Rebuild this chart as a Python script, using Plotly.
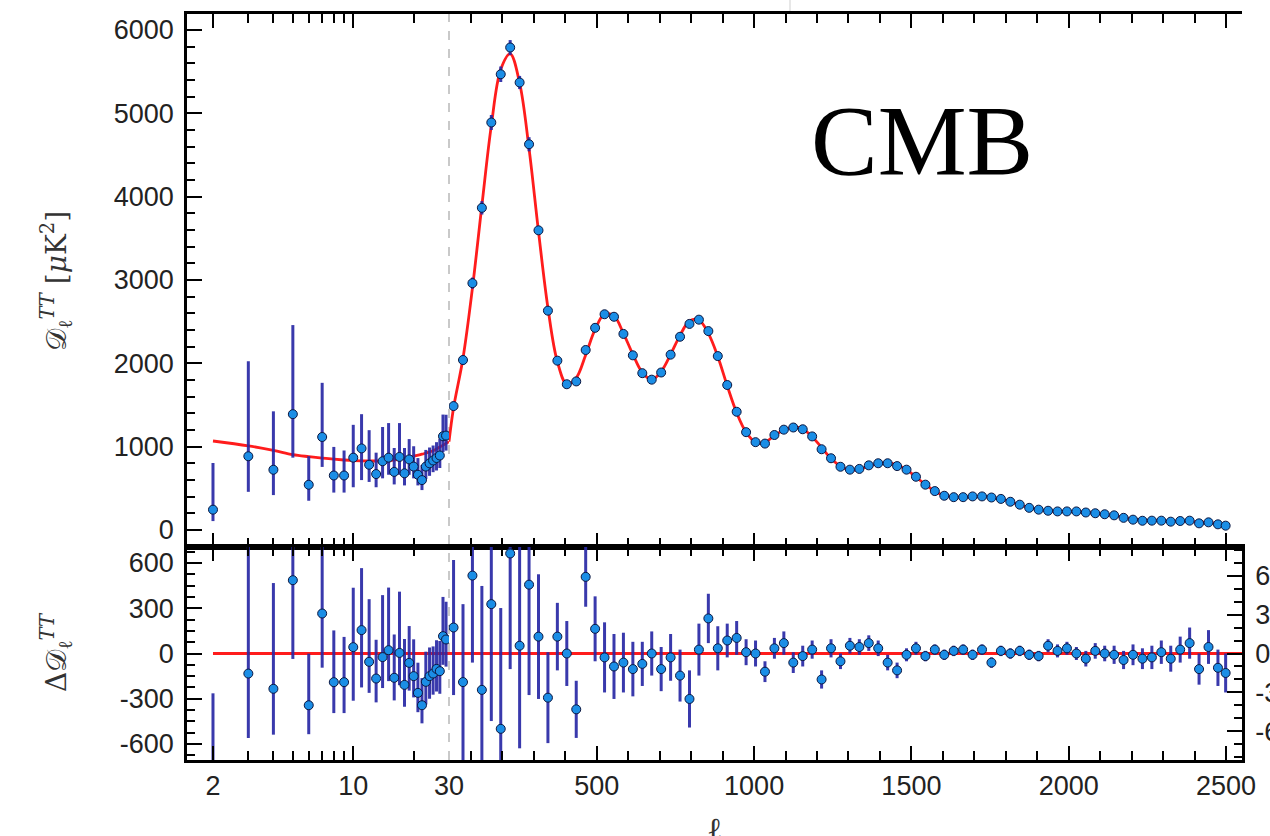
import plotly.graph_objects as go

# ---------------- data ----------------
# low-ell (unbinned) points, ell = 2..29
ell_low = [2, 3, 4, 5, 6, 7, 8, 9, 10, 11, 12, 13, 14, 15, 16, 17, 18, 19, 20,
           21, 22, 23, 24, 25, 26, 27, 28, 29]
dl_low = [244, 885, 723, 1390, 543, 1116, 654, 654, 868, 979, 783, 671, 825, 868,
          697, 877, 680, 847, 761, 663, 599, 761, 800, 834, 864, 894, 1125, 1133]
err_up_low = [560, 1140, 701, 1069, 342, 650, 343, 300, 394, 411, 415, 257, 411, 415,
              287, 406, 304, 244, 244, 200, 180, 200, 190, 180, 190, 200, 260, 250]
err_dn_low = [137, 427, 304, 522, 192, 359, 205, 205, 355, 380, 206, 158, 205, 205,
              150, 214, 145, 184, 141, 128, 120, 150, 150, 140, 150, 150, 190, 180]
res_low = [-824, -133, -234, 486, -343, 265, -190, -190, 42, 155, -55, -166, -24, 22,
           -161, 4, -208, -62, -150, -261, -343, -188, -150, -133, -102, -117, 115, 93]

# best-fit model at low ell
model_ell_low = [2, 3, 4, 5, 6, 7, 8, 9, 10, 12, 14, 16, 18, 20, 22, 25, 27, 30]
model_dl_low = [1068, 1010, 955, 905, 880, 862, 850, 840, 833, 828, 830, 840, 858,
                885, 910, 950, 995, 1060]

# binned high-ell points
ell_bin = [44.5, 74.5, 104.5, 134.5, 164.5, 194.5, 224.5, 254.5, 284.5, 314.5,
           344.5, 374.5, 404.5, 434.5, 464.5, 494.5, 524.5, 554.5, 584.5, 614.5,
           644.5, 674.5, 704.5, 734.5, 764.5, 794.5, 824.5, 854.5, 884.5, 914.5,
           944.5, 974.5, 1004.5, 1034.5, 1064.5, 1094.5, 1124.5, 1154.5, 1184.5, 1214.5,
           1244.5, 1274.5, 1304.5, 1334.5, 1364.5, 1394.5, 1424.5, 1454.5, 1484.5, 1514.5,
           1544.5, 1574.5, 1604.5, 1634.5, 1664.5, 1694.5, 1724.5, 1754.5, 1784.5, 1814.5,
           1844.5, 1874.5, 1904.5, 1934.5, 1964.5, 1994.5, 2024.5, 2054.5, 2084.5, 2114.5,
           2144.5, 2174.5, 2204.5, 2234.5, 2264.5, 2294.5, 2324.5, 2354.5, 2384.5, 2414.5,
           2444.5, 2474.5, 2499]
dl_bin = [1487, 2040, 2962, 3866, 4890, 5469, 5790, 5370, 4629, 3596,
          2632, 2032, 1749, 1783, 2160, 2426, 2589, 2559, 2353, 2096,
          1882, 1804, 1890, 2104, 2319, 2473, 2524, 2387, 2087, 1740,
          1419, 1174, 1054, 1037, 1140, 1204, 1230, 1209, 1123, 969,
          861, 759, 724, 733, 776, 801, 801, 767, 724, 639,
          544, 467, 411, 394, 394, 403, 403, 390, 373, 339,
          304, 266, 244, 231, 223, 223, 223, 210, 201, 189,
          176, 146, 124, 111, 112, 112, 100, 108, 112, 80,
          92, 68, 52]
res_bin = [20, -22, 60, -28, 38, -58, 77, 6, 53, 13,
           -34, 13, 0, -43, 59, 19, -3, -10, -7, -12,
           -8, 0, -12, -3, -17, -35, 3, 27, 4, 10,
           12, 1, 0, -14, 4, 8, -7, -2, 3, -20,
           4, -6, 6, 5, 8, 4, -7, -13, -1, 4,
           -2, 3, -1, 2, 3, -1, 3, -7, 2, 0,
           2, -1, -2, 6, 2, 4, 0, -4, 2, 0,
           -1, -5, -1, -4, -3, 1, -4, 3, 8, -12,
           5, -11, -15]
err_bin = [52, 60, 67, 80, 90, 93, 89, 79, 85, 48,
           35, 26, 25, 22, 23, 25, 27, 25, 23, 21,
           17, 17, 17, 18, 20, 22, 20, 19, 17, 13,
           13, 10, 10, 8, 8, 9, 8, 8, 7, 7,
           7, 6, 6, 6, 6, 6, 6, 6, 5, 5,
           4, 4, 4, 4, 4, 4, 4, 4, 4, 4,
           4, 4, 4, 5, 5, 5, 5, 6, 6, 6,
           7, 7, 8, 8, 9, 9, 10, 10, 12, 12,
           13, 14, 15]

# best-fit model at high ell
model_ell_high = [30] + ell_bin
model_dl_high = [1060,
                 1467, 2062, 2902, 3894, 4852, 5527, 5713, 5364, 4576, 3583,
                 2666, 2019, 1749, 1826, 2101, 2407, 2592, 2569, 2360, 2108,
                 1890, 1804, 1902, 2107, 2336, 2508, 2521, 2360, 2083, 1730,
                 1407, 1173, 1054, 1051, 1136, 1196, 1237, 1211, 1120, 989,
                 857, 765, 718, 728, 768, 797, 808, 780, 725, 635,
                 546, 464, 412, 395, 394, 400, 400, 394, 372, 340,
                 302, 268, 246, 228, 222, 220, 220, 213, 200, 188,
                 175, 152, 130, 118, 115, 111, 107, 105, 102, 96,
                 88, 79, 68]

zero_ell_low = [2, 30]
zero_ell_high = [30, 2551]
zero_val = [0, 0]

x_ticks_low = [2, 10, 30]
x_ticklabels_low = ['2', '10', '30']
x_minor_low = [3, 4, 5, 6, 7, 8, 9, 20]
x_ticks_high = [500, 1000, 1500, 2000, 2500]
x_ticklabels_high = ['500', '1000', '1500', '2000', '2500']
y_ticks_top = [0, 1000, 2000, 3000, 4000, 5000, 6000]
y_ticklabels_top = ['0', '1000', '2000', '3000', '4000', '5000', '6000']
y_ticks_bl = [-600, -300, 0, 300, 600]
y_ticklabels_bl = ['-600', '-300', '0', '300', '600']
y_ticks_br = [-60, -30, 0, 30, 60]
y_ticklabels_br = ['-60', '-30', '0', '30', '60']

# ---------------- styling ----------------
W, H = 1270, 836
XL, XB, XR = 187 / W, 449 / W, 1242 / W
YT_TOP, YT_BOT = 1 - 14 / H, 1 - 547 / H
YB_BOT = 1 - 760 / H

RED = '#ff1c1c'
BAR = 'rgba(40,40,165,0.92)'
MFILL = '#1b8ee6'
MLINE = '#0b1640'
tickfont = dict(family='Liberation Sans, Arial, sans-serif', size=27, color='#222222')

marker = dict(size=9, color=MFILL, line=dict(color=MLINE, width=1))

fig = go.Figure()

# top panel ---------------------------------------------------------
fig.add_trace(go.Scatter(x=model_ell_low, y=model_dl_low, xaxis='x', yaxis='y',
                         mode='lines', line=dict(color=RED, width=2.8, shape='spline')))
fig.add_trace(go.Scatter(x=model_ell_high, y=model_dl_high, xaxis='x2', yaxis='y',
                         mode='lines', line=dict(color=RED, width=2.8, shape='spline')))
fig.add_trace(go.Scatter(x=ell_low, y=dl_low, xaxis='x', yaxis='y', mode='markers',
                         marker=marker,
                         error_y=dict(type='data', symmetric=False, array=err_up_low,
                                      arrayminus=err_dn_low, color=BAR, thickness=3, width=0)))
fig.add_trace(go.Scatter(x=ell_bin, y=dl_bin, xaxis='x2', yaxis='y', mode='markers',
                         marker=marker,
                         error_y=dict(type='data', array=err_bin, color=BAR, thickness=3, width=0)))

# bottom panel ------------------------------------------------------
fig.add_trace(go.Scatter(x=zero_ell_low, y=zero_val, xaxis='x3', yaxis='y2', mode='lines',
                         line=dict(color=RED, width=3)))
fig.add_trace(go.Scatter(x=zero_ell_high, y=zero_val, xaxis='x4', yaxis='y3', mode='lines',
                         line=dict(color=RED, width=3)))
fig.add_trace(go.Scatter(x=ell_low, y=res_low, xaxis='x3', yaxis='y2', mode='markers',
                         marker=marker,
                         error_y=dict(type='data', symmetric=False, array=err_up_low,
                                      arrayminus=err_dn_low, color=BAR, thickness=3, width=0)))
fig.add_trace(go.Scatter(x=ell_bin, y=res_bin, xaxis='x4', yaxis='y3', mode='markers',
                         marker=marker,
                         error_y=dict(type='data', array=err_bin, color=BAR, thickness=3, width=0)))

axcommon = dict(showgrid=False, zeroline=False, showline=True, linecolor='black',
                linewidth=2.5, ticks='inside', tickcolor='black', tickwidth=2,
                tickfont=tickfont, automargin=False)

minor_style = dict(ticklen=9, tickwidth=2, ticks='inside', tickcolor='black', showgrid=False)

logrange = [0.1715, 1.47713]
linrange = [30, 2551]

fig.update_layout(
    width=W, height=H, margin=dict(l=0, r=0, t=0, b=0),
    paper_bgcolor='white', plot_bgcolor='white', showlegend=False,
    xaxis=dict(axcommon, type='log', domain=[XL, XB], range=logrange, anchor='y',
               mirror='allticks', tickmode='array', tickvals=x_ticks_low, ticklen=14,
               showticklabels=False,
               minor=dict(minor_style, tickmode='array', tickvals=x_minor_low)),
    xaxis2=dict(axcommon, domain=[XB, XR], range=linrange, anchor='y',
                mirror='allticks', tickmode='array', tickvals=x_ticks_high, ticklen=14,
                showticklabels=False,
                minor=dict(minor_style, tick0=0, dtick=100)),
    xaxis3=dict(axcommon, type='log', domain=[XL, XB], range=logrange, anchor='y2',
                mirror='allticks', tickmode='array', tickvals=x_ticks_low,
                ticktext=x_ticklabels_low, ticklen=14, ticklabelstandoff=0,
                minor=dict(minor_style, tickmode='array', tickvals=x_minor_low)),
    xaxis4=dict(axcommon, domain=[XB, XR], range=linrange, anchor='y3',
                mirror='allticks', tickmode='array', tickvals=x_ticks_high,
                ticktext=x_ticklabels_high, ticklen=14, ticklabelstandoff=0,
                minor=dict(minor_style, tick0=0, dtick=100)),
    yaxis=dict(axcommon, domain=[YT_BOT, YT_TOP], range=[-204, 6192], anchor='x',
               side='left', tickmode='array', tickvals=y_ticks_top,
               ticktext=y_ticklabels_top, ticklen=15, ticklabelstandoff=5,
               minor=dict(minor_style, tick0=0, dtick=200, ticklen=8)),
    yaxis5=dict(axcommon, overlaying='y', range=[-204, 6192], anchor='x2', side='right',
                tickmode='array', tickvals=y_ticks_top, ticklen=15, showticklabels=False,
                minor=dict(minor_style, tick0=0, dtick=200, ticklen=8)),
    yaxis2=dict(axcommon, domain=[YB_BOT, YT_BOT], range=[-706, 706], anchor='x3',
                side='left', tickmode='array', tickvals=y_ticks_bl,
                ticktext=y_ticklabels_bl, ticklen=15, ticklabelstandoff=5,
                minor=dict(minor_style, tick0=0, dtick=75, ticklen=8)),
    yaxis3=dict(axcommon, domain=[YB_BOT, YT_BOT], range=[-82, 82], anchor='x4',
                side='right', tickmode='array', tickvals=y_ticks_br,
                ticktext=y_ticklabels_br, ticklen=15, ticklabelstandoff=5,
                minor=dict(minor_style, tick0=0, dtick=10, ticklen=8)),
)

# dashed divider at ell = 30
fig.add_shape(type='line', xref='paper', yref='paper', x0=XB, x1=XB, y0=YB_BOT, y1=YT_TOP,
              line=dict(color='#b8b8b8', width=1.5, dash='dash'), layer='below')
# small stray line at the top of the image
fig.add_shape(type='line', xref='paper', yref='paper', x0=790 / W, x1=790 / W,
              y0=1 - 11 / H, y1=1, line=dict(color='#cfcfcf', width=1))

serif = 'DejaVu Serif, Liberation Serif, serif'
fig.add_annotation(text='CMB', xref='paper', yref='paper', x=922 / W, y=1 - 140 / H,
                   showarrow=False, xanchor='center', yanchor='middle',
                   font=dict(family='Liberation Serif, Times New Roman, serif', size=100,
                             color='black'))
fig.add_annotation(text='𝒟<sub>ℓ</sub><sup><i>TT</i></sup> [<i>μ</i>K<sup>2</sup>]',
                   xref='paper', yref='paper', x=56 / W, y=1 - 281 / H, textangle=-90,
                   showarrow=False, xanchor='center', yanchor='middle',
                   font=dict(family=serif, size=28, color='#333333'))
fig.add_annotation(text='Δ𝒟<sub>ℓ</sub><sup><i>TT</i></sup>',
                   xref='paper', yref='paper', x=56 / W, y=1 - 652 / H, textangle=-90,
                   showarrow=False, xanchor='center', yanchor='middle',
                   font=dict(family=serif, size=28, color='#333333'))
fig.add_annotation(text='ℓ', xref='paper', yref='paper', x=714 / W, y=1 - 808 / H,
                   showarrow=False, xanchor='center', yanchor='top',
                   font=dict(family=serif, size=32, color='#333333'))

fig.write_html('out.html')
